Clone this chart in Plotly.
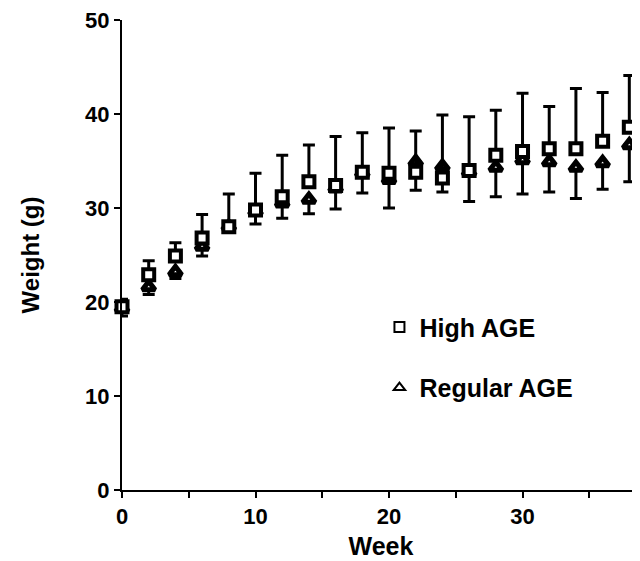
import plotly.graph_objects as go

weeks = [0, 2, 4, 6, 8, 10, 12, 14, 16, 18, 20, 22, 24, 26, 28, 30, 32, 34, 36, 38]
high_age = [19.5, 22.9, 24.9, 26.8, 28.0, 29.8, 31.2, 32.8, 32.4, 33.8, 33.7, 33.8, 33.2, 34.0, 35.6, 36.0, 36.3, 36.3, 37.1, 38.6]
high_age_err = [0.8, 1.5, 1.4, 2.5, 3.5, 3.9, 4.4, 3.9, 5.2, 4.2, 4.8, 4.4, 6.7, 5.7, 4.8, 6.2, 4.5, 6.4, 5.2, 5.5]
regular_age = [19.3, 21.6, 23.2, 25.9, 28.0, 29.6, 30.5, 30.9, 32.1, 33.7, 33.0, 34.9, 34.4, 33.8, 34.3, 35.1, 34.9, 34.3, 34.8, 36.7]
regular_age_err = [0.8, 0.8, 0.7, 1.0, 0.6, 1.3, 1.6, 1.5, 2.2, 2.1, 3.0, 3.0, 2.7, 3.1, 3.1, 3.6, 3.2, 3.3, 2.8, 3.9]

FONT = "Liberation Sans, Arial, sans-serif"

fig = go.Figure()

fig.add_trace(go.Scatter(
    x=weeks, y=regular_age, mode="markers", name="Regular AGE", showlegend=False,
    marker=dict(symbol="triangle-up", size=11, color="white", line=dict(color="black", width=5)),
    error_y=dict(type="data", symmetric=False, array=[0] * len(weeks), arrayminus=regular_age_err,
                 color="black", thickness=3, width=6),
    cliponaxis=False,
))
fig.add_trace(go.Scatter(
    x=weeks, y=high_age, mode="markers", name="High AGE", showlegend=False,
    marker=dict(symbol="square", size=11, color="white", line=dict(color="black", width=4)),
    error_y=dict(type="data", symmetric=False, array=high_age_err, arrayminus=[0] * len(weeks),
                 color="black", thickness=3, width=6),
    cliponaxis=False,
))
# legend entries (open symbols, as in the original legend)
fig.add_trace(go.Scatter(
    x=[None], y=[None], mode="markers", name="High AGE", legendgroup="h",
    marker=dict(symbol="square-open", size=10, color="black", line=dict(width=2)),
))
fig.add_trace(go.Scatter(
    x=[None], y=[None], mode="markers", name="Regular AGE", legendgroup="r",
    marker=dict(symbol="triangle-up-open", size=10, color="black", line=dict(width=2)),
))

# the page body has an 8px margin, so the figure is sized to end at the window edge
fig.update_layout(
    width=632, height=553,
    margin=dict(l=114, r=0, t=12, b=71),
    paper_bgcolor="white", plot_bgcolor="white",
    font=dict(family=FONT, color="black", size=22),
    showlegend=True,
    legend=dict(
        x=0.497, y=0.395, xanchor="left", yanchor="top",
        font=dict(family=FONT, size=25, color="black", weight="bold"),
        bgcolor="rgba(0,0,0,0)", traceorder="grouped", tracegroupgap=25,
        itemwidth=30,
    ),
    xaxis=dict(
        range=[0, 38.8], tickvals=[0, 10, 20, 30], showgrid=False, zeroline=False,
        showline=True, linecolor="black", linewidth=2, automargin=False,
        ticks="outside", ticklen=6, tickwidth=2, tickcolor="black", ticklabeloverflow="allow",
        minor=dict(tickvals=[5, 15, 25, 35], ticks="outside", ticklen=6, tickwidth=2, tickcolor="black"),
        tickfont=dict(family=FONT, size=22, weight="bold"),
        title=dict(text="Week", font=dict(family=FONT, size=25, weight="bold"), standoff=9),
    ),
    yaxis=dict(
        range=[0, 50], tickvals=[0, 10, 20, 30, 40, 50], showgrid=False, zeroline=False,
        showline=True, linecolor="black", linewidth=2, automargin=False,
        ticks="outside", ticklen=6, tickwidth=2, tickcolor="black", ticklabeloverflow="allow",
        tickfont=dict(family=FONT, size=22, weight="bold"),
        title=dict(text="Weight (g)", font=dict(family=FONT, size=24, weight="bold"), standoff=39),
    ),
)

fig.write_html("out.html")
